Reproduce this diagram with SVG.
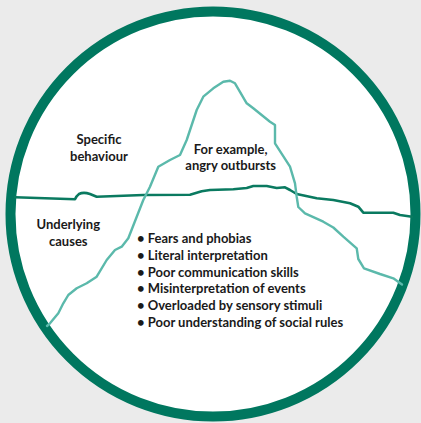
<svg xmlns="http://www.w3.org/2000/svg" width="421" height="423" viewBox="0 0 421 423">
  <style>
    .bg { fill: #ebebeb; }
    .ring { fill: #ffffff; stroke: #00775f; stroke-width: 10; }
    .water { fill: none; stroke: #0a7a60; stroke-width: 2.6; stroke-linejoin: round; stroke-linecap: round; }
    .berg { fill: none; stroke: #5bb9ab; stroke-width: 2.4; stroke-linejoin: round; stroke-linecap: round; }
    text { font-family: "Lato", "Open Sans", "Liberation Sans", sans-serif; font-weight: bold; font-size: 13px; fill: #1a1a1a; }
    .c { text-anchor: middle; }
  </style>
  <rect class="bg" x="0" y="0" width="421" height="423"/>
  <circle class="ring" cx="213" cy="214" r="202.5"/>

  <g id="connectors">
    <!-- waterline -->
    <path id="waterline" class="water" d="M15,197.3 L75,199.3 C76,197 77,195.5 79,194 C82,192.5 86,192.6 90,194 L96.7,196.7 L143.3,195 L190,194.7 L201.7,191.3 L210,190 L233.3,189.3 L246.7,188 L253.3,186 L266.7,186 L276.7,188 L285,187.3 L290,190 L296.7,194 L316.7,198.3 L333.3,200 L350,203.3 L358.3,206.7 L363.3,212.7 L393.3,212.7 L400,215 L412,216.7"/>
    <!-- iceberg outline -->
    <path id="iceberg" class="berg" d="M47,326 L50,323.3 L58.3,313.3 L63.3,303.3 L68.3,295 L76.7,288.3 L86.7,283.3 L96.7,276.7 L106.7,260 L115,250 L121.7,246.7 L128.3,238.3 L143.3,200 L150,186.7 L158.3,166.7 L170,160 L180,155 L186.7,140 L196.7,110 L203.3,96.7 L213.3,88.3 L223.3,81.7 L230,80.7 L235,83.3 L246.7,103.3 L253.3,108.3 L270,121.7 L275,125 L275,143.3 L290,166.7 L295,183.3 L296.7,196.7 L298.3,207 L305,213.3 L323.3,221.7 L333.3,227.5 L343.3,236.7 L356.7,248.3 L358.3,259 L364,268.3 L380,274 L393.3,278.3 L402,284.5"/>
  </g>

  <g id="label-specific">
    <text class="c" x="99" y="144">Specific</text>
    <text class="c" x="99" y="160.5">behaviour</text>
  </g>
  <g id="label-example">
    <text class="c" x="230.7" y="153.5">For example,</text>
    <text class="c" x="230.7" y="169.5">angry outbursts</text>
  </g>
  <g id="label-underlying">
    <text class="c" x="68.3" y="229">Underlying</text>
    <text class="c" x="68.3" y="245.5">causes</text>
  </g>
  <g id="causes-list">
    <text x="137" y="243.3">• Fears and phobias</text>
    <text x="137" y="260">• Literal interpretation</text>
    <text x="137" y="276.7">• Poor communication skills</text>
    <text x="137" y="293.3">• Misinterpretation of events</text>
    <text x="137" y="310">• Overloaded by sensory stimuli</text>
    <text x="137" y="326.7">• Poor understanding of social rules</text>
  </g>
</svg>
